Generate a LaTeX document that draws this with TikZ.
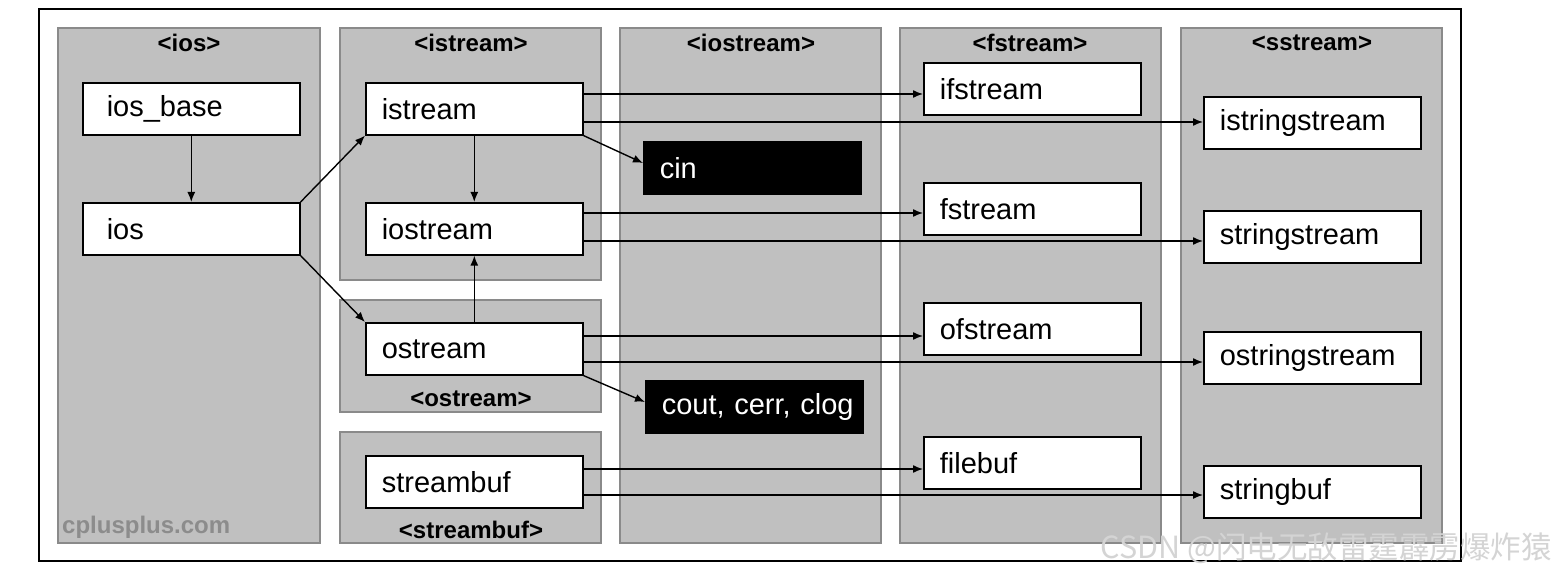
\documentclass[tikz,border=0pt]{standalone}
\usepackage{fontspec}
\setmainfont{Liberation Sans}
\newfontfamily\cjkfont{Noto Sans CJK SC}
\usetikzlibrary{arrows.meta}
\definecolor{panelfill}{HTML}{C0C0C0}
\definecolor{panelline}{HTML}{8A8A8A}
\definecolor{marktext}{HTML}{8C8C8C}
\definecolor{wmtext}{HTML}{D4D4D4}
\tikzset{
  panel/.style={draw=panelline, fill=panelfill, line width=2.5pt},
  paneltitle/.style={font=\fontsize{24}{26}\selectfont\bfseries, inner sep=0pt},
  classbox/.style={draw=black, fill=white, line width=1.6pt, anchor=north west,
    minimum height=52pt, text width=185pt, inner xsep=16pt, align=left,
    font=\fontsize{29}{32}\selectfont},
  widebox/.style={classbox, text width=169pt, inner xsep=24pt},
  objbox/.style={classbox, fill=black, text=white},
  arr/.style={line width=1.4pt, -{Latex[length=10pt,width=8pt]}},
}
\begin{document}
\begin{tikzpicture}[x=1pt, y=-1pt]
\useasboundingbox (0,0) rectangle (1557,577);
% outer frame
\draw[line width=1.6pt, fill=white] (39,9) rectangle (1461,561);

% header panels
\draw[panel] (58,28) rectangle (320,543);
\draw[panel] (340,28) rectangle (601,280);
\draw[panel] (340,300) rectangle (601,412);
\draw[panel] (340,432) rectangle (601,543);
\draw[panel] (620,28) rectangle (881,543);
\draw[panel] (900,28) rectangle (1161,543);
\draw[panel] (1181,28) rectangle (1442,543);

\node[paneltitle] (tios) at (189,43) {<ios>};
\node[paneltitle] (tistream) at (471,43) {<istream>};
\node[paneltitle] (tiostream) at (751,43) {<iostream>};
\node[paneltitle] (tfstream) at (1030,43) {<fstream>};
\node[paneltitle] (tsstream) at (1312,43) {<sstream>};
\node[paneltitle] (tostream) at (471,399) {<ostream>};
\node[paneltitle] (tstreambuf) at (471,530) {<streambuf>};
\node[font=\fontsize{24}{26}\selectfont\bfseries, text=marktext, anchor=west, inner sep=0pt]
  (site) at (62,527) {cplusplus.com};

% classes
\node[widebox] (iosbase) at (82,82) {ios\_base};
\node[widebox] (ios) at (82,202) {ios};
\node[classbox] (istream) at (365,82) {istream};
\node[classbox] (iostream) at (365,202) {iostream};
\node[classbox] (ostream) at (365,322) {ostream};
\node[classbox] (streambuf) at (365,455) {streambuf};
\node[objbox] (cin) at (643,141) {cin};
\node[objbox] (cout) at (645,380) {\mbox{cout, cerr, clog}};
\node[classbox] (ifstream) at (923,62) {ifstream};
\node[classbox] (fstream) at (923,182) {fstream};
\node[classbox] (ofstream) at (923,302) {ofstream};
\node[classbox] (filebuf) at (923,436) {filebuf};
\node[classbox] (istringstream) at (1203,96) {istringstream};
\node[classbox] (stringstream) at (1203,210) {stringstream};
\node[classbox] (ostringstream) at (1203,331) {ostringstream};
\node[classbox] (stringbuf) at (1203,465) {stringbuf};

% inheritance
\draw[arr] (iosbase.south) -- (ios.north);
\draw[arr] (ios.north east) -- (istream.south west);
\draw[arr] (ios.south east) -- (ostream.north west);
\draw[arr] (istream.south) -- (iostream.north);
\draw[arr] (ostream.north) -- (iostream.south);

\draw[arr] ([yshift=-12pt]istream.north east) coordinate (s1) -- (s1 -| ifstream.west);
\draw[arr] ([yshift=-40pt]istream.north east) coordinate (s2) -- (s2 -| istringstream.west);
\draw[arr] ([yshift=-11pt]iostream.north east) coordinate (s3) -- (s3 -| fstream.west);
\draw[arr] ([yshift=-39pt]iostream.north east) coordinate (s4) -- (s4 -| stringstream.west);
\draw[arr] ([yshift=-14pt]ostream.north east) coordinate (s5) -- (s5 -| ofstream.west);
\draw[arr] ([yshift=-40pt]ostream.north east) coordinate (s6) -- (s6 -| ostringstream.west);
\draw[arr] ([yshift=-14pt]streambuf.north east) coordinate (s7) -- (s7 -| filebuf.west);
\draw[arr] ([yshift=-40pt]streambuf.north east) coordinate (s8) -- (s8 -| stringbuf.west);

% standard objects
\draw[arr] (istream.south east) -- ([yshift=-22pt]cin.north west);
\draw[arr] (ostream.south east) -- ([yshift=-22pt]cout.north west);

% watermark
\node[font=\cjkfont\fontsize{30.5}{34}\selectfont, text=wmtext, anchor=east, inner sep=0pt]
  (wm) at (1552,548) {CSDN @闪电无敌雷霆霹雳爆炸猿};
\end{tikzpicture}
\end{document}
